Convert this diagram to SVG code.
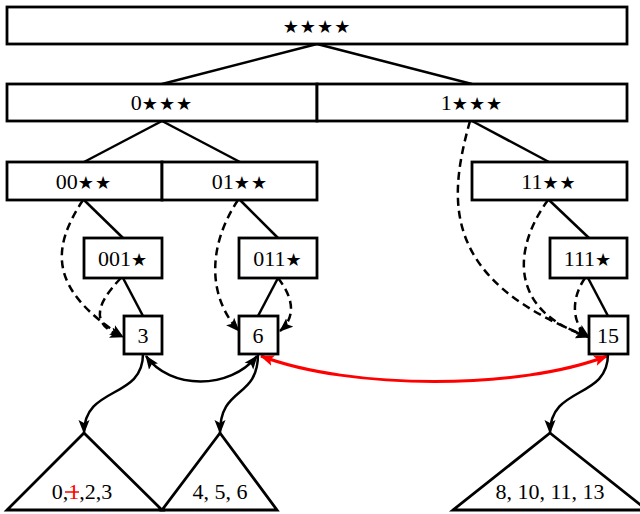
<svg xmlns="http://www.w3.org/2000/svg" width="640" height="514" viewBox="0 0 640 514">
<style>
.box{fill:#fff;stroke:#000;stroke-width:2.8}
.t{font-family:"Liberation Serif","DejaVu Serif",serif;font-size:22px;text-anchor:middle;fill:#000}
.s{font-family:"DejaVu Sans",sans-serif;font-size:18px;letter-spacing:1px}
.e{fill:none;stroke:#000;stroke-width:2.5}
.d{fill:none;stroke:#000;stroke-width:2.5;stroke-dasharray:8,5}
.r{fill:none;stroke:#f00;stroke-width:3}
.tri{fill:#fff;stroke:#000;stroke-width:2.8}
</style>
<defs>
<marker id="a" markerUnits="userSpaceOnUse" markerWidth="16" markerHeight="12" refX="13" refY="5.5" orient="auto-start-reverse" viewBox="0 0 16 11">
<path d="M0,0 L14,5.5 L0,11 L3,5.5 z" fill="#000"/>
</marker>
<marker id="ar" markerUnits="userSpaceOnUse" markerWidth="16" markerHeight="12" refX="13" refY="5.5" orient="auto-start-reverse" viewBox="0 0 16 11">
<path d="M0,0 L14,5.5 L0,11 L3,5.5 z" fill="#f00"/>
</marker>
</defs>
<g id="connectors">
<line class="e" x1="317" y1="44" x2="162" y2="84"/>
<line class="e" x1="317" y1="44" x2="472" y2="84"/>
<line class="e" x1="162" y1="121" x2="84" y2="162"/>
<line class="e" x1="162" y1="121" x2="240" y2="162"/>
<line class="e" x1="472" y1="121" x2="549" y2="162"/>
<line class="e" x1="84" y1="200" x2="123" y2="238"/>
<line class="e" x1="240" y1="200" x2="278" y2="238"/>
<line class="e" x1="549" y1="200" x2="589" y2="238"/>
<line class="e" x1="123" y1="278" x2="143" y2="316"/>
<line class="e" x1="278" y1="278" x2="258" y2="316"/>
<line class="e" x1="588" y1="278" x2="608" y2="316"/>
<path class="d" d="M83 200 C50 250,50 290,123 337" marker-end="url(#a)"/>
<path class="d" d="M121 278 C95 305,90 325,123 337" marker-end="url(#a)"/>
<path class="d" d="M238 200 C205 250,210 300,239 331" marker-end="url(#a)"/>
<path class="d" d="M278 278 C295 300,295 318,280 331" marker-end="url(#a)"/>
<path class="d" d="M470 121 C448 200,440 280,589 337" marker-end="url(#a)"/>
<path class="d" d="M548 200 C515 245,505 310,589 337" marker-end="url(#a)"/>
<path class="d" d="M585 278 C570 300,572 325,589 337" marker-end="url(#a)"/>
<path class="e" d="M146 356 C170 390,230 390,257 356" marker-start="url(#a)" marker-end="url(#a)"/>
<path class="r" d="M261 356 C350 390,520 390,607 356" marker-start="url(#ar)" marker-end="url(#ar)"/>
<path class="e" d="M143 354 C143 400,84 385,84 433" marker-end="url(#a)"/>
<path class="e" d="M258 354 C258 400,220 385,220 433" marker-end="url(#a)"/>
<path class="e" d="M608 354 C608 400,550 385,550 433" marker-end="url(#a)"/>
</g>
<g id="n0"><rect class="box" x="7" y="7" width="620" height="37"/><text class="t" x="317" y="33"><tspan class="s">★★★★</tspan></text></g>
<g id="n1"><rect class="box" x="7" y="84" width="310" height="37"/><text class="t" x="162" y="110">0<tspan class="s">★★★</tspan></text></g>
<g id="n2"><rect class="box" x="317" y="84" width="310" height="37"/><text class="t" x="472" y="110">1<tspan class="s">★★★</tspan></text></g>
<g id="n3"><rect class="box" x="7" y="162" width="155" height="38"/><text class="t" x="84" y="189">00<tspan class="s">★★</tspan></text></g>
<g id="n4"><rect class="box" x="162" y="162" width="155" height="38"/><text class="t" x="240" y="189">01<tspan class="s">★★</tspan></text></g>
<g id="n5"><rect class="box" x="472" y="162" width="155" height="38"/><text class="t" x="549" y="189">11<tspan class="s">★★</tspan></text></g>
<g id="n6"><rect class="box" x="84" y="238" width="78" height="40"/><text class="t" x="123" y="266">001<tspan class="s">★</tspan></text></g>
<g id="n7"><rect class="box" x="239" y="238" width="78" height="40"/><text class="t" x="278" y="266">011<tspan class="s">★</tspan></text></g>
<g id="n8"><rect class="box" x="550" y="238" width="77" height="40"/><text class="t" x="588" y="266">111<tspan class="s">★</tspan></text></g>
<g id="n9"><rect class="box" x="124" y="316" width="38" height="38"/><text class="t" x="143" y="343">3</text></g>
<g id="n10"><rect class="box" x="239" y="316" width="39" height="38"/><text class="t" x="258" y="343">6</text></g>
<g id="n11"><rect class="box" x="589" y="316" width="39" height="38"/><text class="t" x="608" y="343">15</text></g>
<g id="n12"><path class="tri" d="M84 433 L162 510 L7 510 Z"/><text class="t" x="82" y="499">0,<tspan fill="#f00">1</tspan>,2,3</text><line x1="65" y1="492" x2="79" y2="492" stroke="#f00" stroke-width="1.5"/></g>
<g id="n13"><path class="tri" d="M220 433 L277 510 L162 510 Z"/><text class="t" x="220" y="499">4, 5, 6</text></g>
<g id="n14"><path class="tri" d="M550 433 L647 510 L453 510 Z"/><text class="t" x="550" y="499">8, 10, 11, 13</text></g>
</svg>
